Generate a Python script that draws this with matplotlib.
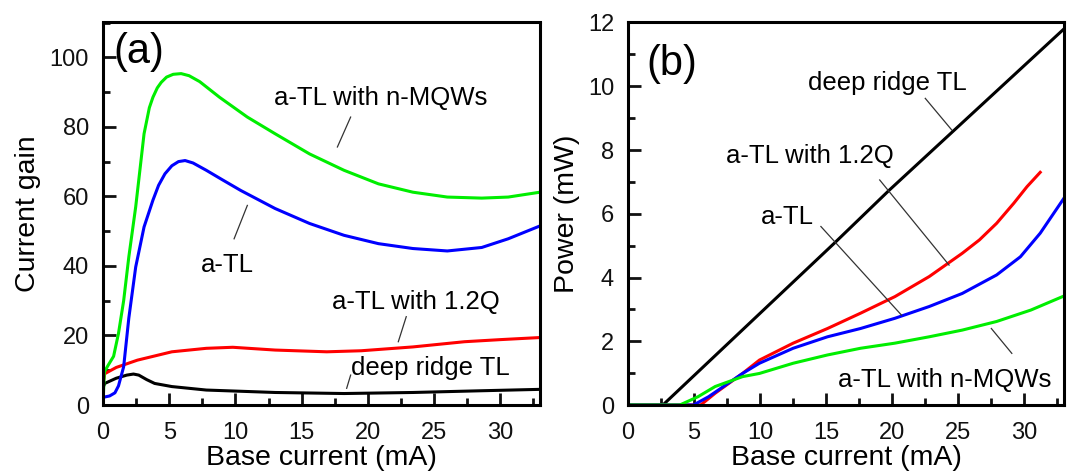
import matplotlib
matplotlib.use("Agg")
import matplotlib.pyplot as plt
from matplotlib.ticker import MultipleLocator

plt.rcParams['font.family'] = ['Liberation Sans', 'DejaVu Sans']

# ---------------- Panel (a): current gain vs base current ----------------
a_green_x = [0, 0.1, 0.4, 0.8, 1.17, 1.56, 1.95, 2.47, 3.1, 3.5, 3.77, 4.1, 4.4, 4.8,
             5.3, 5.9, 6.5, 7.3, 8.8, 10.9, 13.0, 15.6, 18.2, 20.8, 23.4, 26.0,
             28.6, 30.6, 33.0]
a_green_y = [0, 9.5, 11.5, 14, 20.6, 30, 42.6, 57, 78, 85.5, 88.5, 91.2, 92.8, 94.3,
             95.1, 95.3, 94.7, 93.0, 88.5, 82.8, 78, 72.2, 67.5, 63.6, 61.2, 59.8,
             59.5, 59.8, 61.2]

a_blue_x = [0, 0.5, 0.9, 1.17, 1.56, 1.95, 2.47, 3.1, 3.77, 4.2, 4.68, 5.2, 5.7, 6.2,
            6.8, 7.8, 9.0, 10.4, 13.0, 15.6, 18.2, 20.8, 23.4, 26.0, 28.6, 30.6, 33.0]
a_blue_y = [2.2, 2.6, 3.5, 5.5, 11, 25, 39.7, 51.2, 58.9, 63.2, 66.5, 68.8, 70.0, 70.3,
            69.6, 67.5, 64.8, 61.7, 56.5, 52.2, 48.8, 46.4, 45, 44.3, 45.3, 47.8, 51.5]

a_red_x = [0, 0.13, 1.0, 2.6, 5.2, 7.8, 9.8, 13.0, 16.9, 19.5, 23.4, 27.3, 30.0, 33.0]
a_red_y = [6, 9, 10.8, 12.9, 15.3, 16.3, 16.6, 15.8, 15.3, 15.6, 16.7, 18.2, 18.8, 19.4]

a_black_x = [0, 0.13, 1.0, 1.8, 2.3, 2.7, 3.3, 3.9, 5.2, 7.8, 13.0, 18.2, 23.4, 28.6, 33.0]
a_black_y = [5.0, 6.2, 7.7, 8.6, 8.9, 8.6, 7.3, 6.2, 5.3, 4.3, 3.6, 3.3, 3.6, 4.1, 4.5]

# ---------------- Panel (b): power vs base current ----------------
b_black_x = [0, 2.64, 15.6, 19.8, 33.0]
b_black_y = [0, 0, 5.07, 6.75, 11.8]

b_red_x = [0, 5.5, 6.6, 8.67, 9.95, 12.5, 15.1, 17.6, 20.2, 22.8, 25.3, 26.6, 27.9,
           29.2, 30.2, 31.2]
b_red_y = [0, 0, 0.37, 0.99, 1.41, 1.94, 2.4, 2.88, 3.4, 4.03, 4.76, 5.18, 5.7,
           6.33, 6.85, 7.3]

b_blue_x = [0, 4.95, 6.1, 8.67, 9.95, 12.5, 15.1, 17.6, 20.2, 22.8, 25.3, 27.9,
            29.7, 31.2, 33.0]
b_blue_y = [0, 0, 0.26, 0.99, 1.31, 1.78, 2.14, 2.4, 2.72, 3.09, 3.5, 4.08,
            4.65, 5.39, 6.49]

b_green_x = [0, 3.92, 5.3, 6.6, 8.67, 9.95, 12.5, 15.1, 17.6, 20.2, 22.8, 25.3,
             27.9, 30.5, 33.0]
b_green_y = [0, 0, 0.26, 0.58, 0.89, 0.99, 1.31, 1.57, 1.78, 1.94, 2.14, 2.35,
             2.62, 2.98, 3.42]

labels = ["a-TL with n-MQWs", "a-TL", "a-TL with 1.2Q", "deep ridge TL"]

GREEN = "#00ee00"
BLUE = "#0000ff"
RED = "#ff0000"
BLACK = "#000000"

fig = plt.figure(figsize=(10.72, 4.73), dpi=100)
ax1 = fig.add_axes([103 / 1072, 1 - 405 / 473, 437 / 1072, 382.5 / 473])
ax2 = fig.add_axes([628 / 1072, 1 - 405 / 473, 436 / 1072, 382.5 / 473])

lw = 2.2
ax1.plot(a_black_x, a_black_y, color=BLACK, lw=lw)
ax1.plot(a_red_x, a_red_y, color=RED, lw=lw)
ax1.plot(a_blue_x, a_blue_y, color=BLUE, lw=lw)
ax1.plot(a_green_x, a_green_y, color=GREEN, lw=lw)

ax2.plot(b_black_x, b_black_y, color=BLACK, lw=lw)
ax2.plot(b_red_x, b_red_y, color=RED, lw=lw)
ax2.plot(b_blue_x, b_blue_y, color=BLUE, lw=lw)
ax2.plot(b_green_x, b_green_y, color=GREEN, lw=lw)

for ax in (ax1, ax2):
    ax.set_xlim(0, 33)
    ax.xaxis.set_major_locator(MultipleLocator(5))
    ax.xaxis.set_minor_locator(MultipleLocator(2.5))
    ax.tick_params(which='both', direction='in', top=False, right=False,
                   labelsize=17, width=2, colors='#111111')
    ax.tick_params(which='major', length=9)
    ax.tick_params(which='minor', length=5)
    ax.tick_params(axis='x', pad=12)
    ax.tick_params(axis='y', pad=10)
    for s in ax.spines.values():
        s.set_linewidth(2.2)
    ax.set_xlabel("Base current (mA)", fontsize=20.5, labelpad=1)

ax1.set_ylim(0, 110)
ax1.yaxis.set_major_locator(MultipleLocator(20))
ax1.yaxis.set_minor_locator(MultipleLocator(10))
ax1.set_ylabel("Current gain", fontsize=20.5, labelpad=6)

ax2.set_ylim(0, 12)
ax2.yaxis.set_major_locator(MultipleLocator(2))
ax2.yaxis.set_minor_locator(MultipleLocator(1))
ax2.set_ylabel("Power (mW)", fontsize=20.5, labelpad=6)

tfs = 18.5
lc = dict(color="#333333", lw=0.9)

# panel (a) annotations
ax1.text(2.7, 101.5, "(a)", fontsize=30, ha='center', va='center')
ax1.text(21.0, 88.3, labels[0], fontsize=tfs, ha='center', va='center')
ax1.plot([18.7, 17.7], [82.8, 74.2], **lc)
ax1.text(9.4, 40.3, labels[1], fontsize=tfs, ha='center', va='center')
ax1.plot([9.9, 10.9], [47.8, 57.4], **lc)
ax1.text(23.6, 29.7, labels[2], fontsize=tfs, ha='center', va='center')
ax1.plot([22.9, 22.3], [25.4, 18.2], **lc)
ax1.text(24.7, 10.6, labels[3], fontsize=tfs, ha='center', va='center')
ax1.plot([18.7, 18.4], [8.6, 4.8], **lc)

# panel (b) annotations
ax2.text(3.3, 10.7, "(b)", fontsize=30, ha='center', va='center')
ax2.text(19.6, 10.1, labels[3], fontsize=tfs, ha='center', va='center')
ax2.plot([22.5, 24.5], [9.62, 8.63], **lc)
ax2.text(13.8, 7.8, labels[2], fontsize=tfs, ha='center', va='center')
ax2.plot([19.05, 24.3], [7.06, 4.39], **lc)
ax2.text(12.1, 5.9, labels[1], fontsize=tfs, ha='center', va='center')
ax2.plot([14.6, 20.7], [5.6, 2.82], **lc)
ax2.text(24.0, 0.8, labels[0], fontsize=tfs, ha='center', va='center')
ax2.plot([29.05, 27.5], [1.62, 2.4], **lc)

fig.savefig("out.png", dpi=100)
